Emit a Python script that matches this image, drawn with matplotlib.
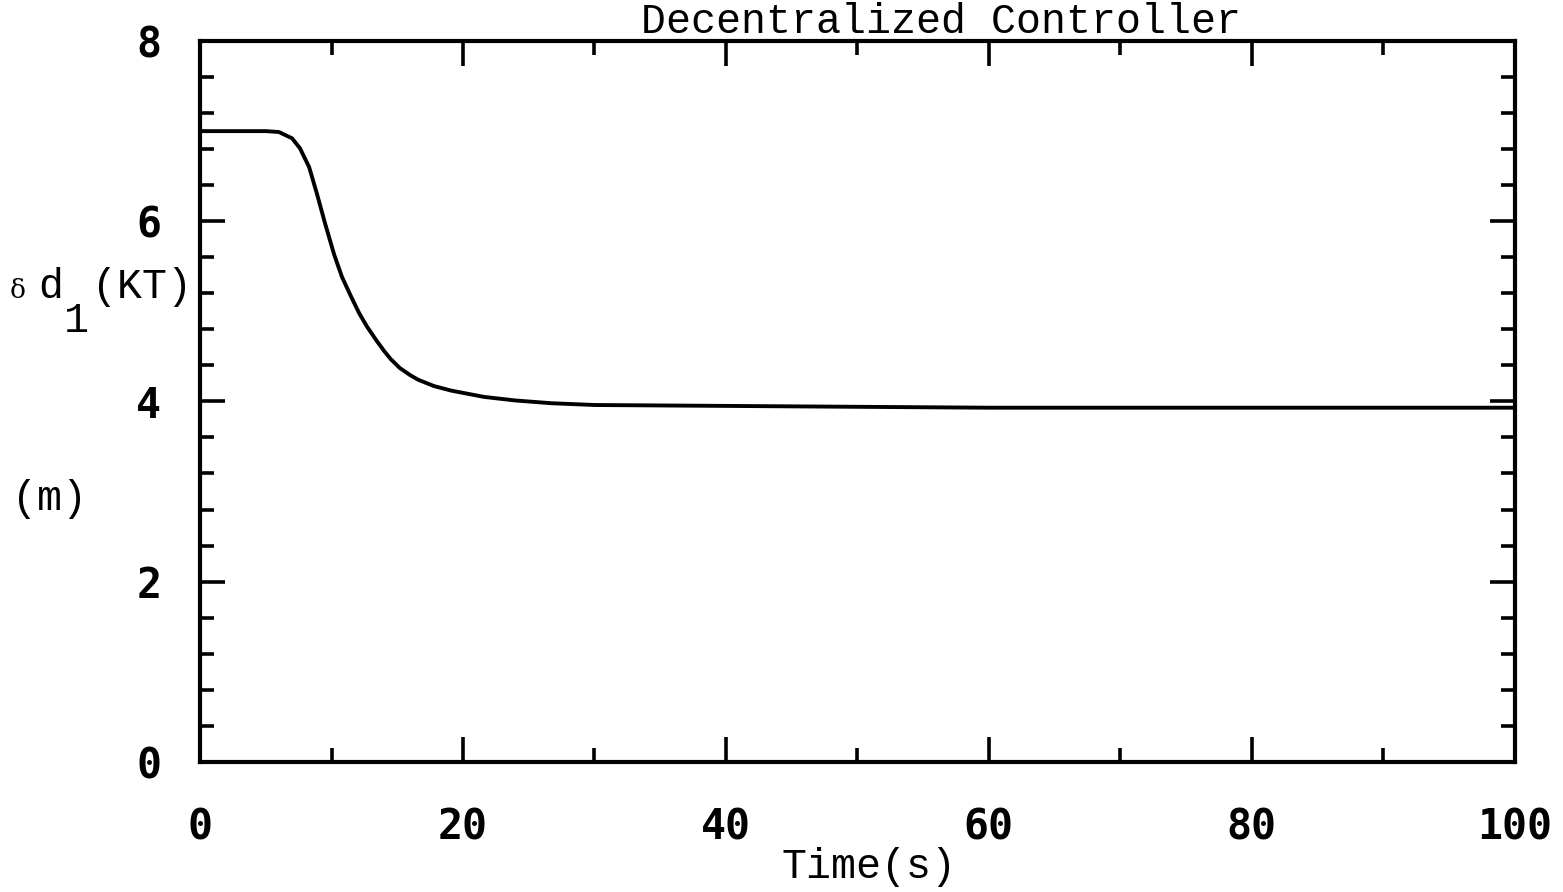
import matplotlib
matplotlib.use("Agg")
import matplotlib.pyplot as plt
from matplotlib.ticker import MultipleLocator

# data
t = [0, 5, 6, 7, 7.6, 8.3, 8.9, 9.5, 10.2, 10.8, 11.5, 12.1, 12.7, 13.4,
     14.0, 14.5, 15.2, 16.0, 16.6, 17.8, 19.1, 21.6, 24, 26.7, 30, 40, 50,
     60, 80, 100]
dd1 = [7.00, 7.00, 6.99, 6.92, 6.81, 6.60, 6.30, 5.98, 5.63, 5.38, 5.16, 4.98,
       4.83, 4.68, 4.56, 4.47, 4.37, 4.29, 4.24, 4.17, 4.12, 4.05, 4.01, 3.98,
       3.96, 3.95, 3.94, 3.93, 3.93, 3.93]

xticks = [0, 20, 40, 60, 80, 100]
yticks = [0, 2, 4, 6, 8]

mono = "Liberation Mono"
tickfont = "DejaVu Sans Mono"

fig = plt.figure(figsize=(15.63, 8.92), dpi=100)
ax = fig.add_axes([0.128, 0.146, 0.841, 0.808])

ax.plot(t, dd1, color="black", lw=2.8, solid_joinstyle="round", solid_capstyle="round")

ax.set_xlim(0, 100)
ax.set_ylim(0, 8)

# inward ticks on all four sides
ax.set_xticks(xticks)
ax.set_yticks(yticks)
ax.xaxis.set_minor_locator(MultipleLocator(10))
ax.yaxis.set_minor_locator(MultipleLocator(0.4))
ax.tick_params(which="both", direction="in", top=True, right=True, width=2.6)
ax.tick_params(which="major", length=18)
ax.tick_params(which="minor", length=10)
ax.tick_params(axis="x", which="major", pad=32)
ax.tick_params(axis="y", which="major", pad=28)
for sp in ax.spines.values():
    sp.set_linewidth(3)

for lab in ax.get_xticklabels() + ax.get_yticklabels():
    lab.set_fontfamily(tickfont)
    lab.set_fontweight("bold")
    lab.set_fontsize(30)

# title
fig.text(0.602, 1 - 33 / 892, "Decentralized Controller", family=mono,
         fontsize=30, ha="center", va="baseline")

# x label
fig.text(0.556, 1 - 878 / 892, "Time(s)", family=mono, fontsize=30,
         ha="center", va="baseline")

# y label pieces
fig.text(10 / 1563, 1 - 298 / 892, "δ", family="DejaVu Serif", fontsize=19,
         ha="left", va="baseline")
fig.text(38 / 1563, 1 - 298 / 892, "d", family=mono, fontsize=30,
         ha="left", va="baseline")
fig.text(64 / 1563, 1 - 332 / 892, "1", family=mono, fontsize=30,
         ha="left", va="baseline")
fig.text(92 / 1563, 1 - 298 / 892, "(KT)", family=mono, fontsize=30,
         ha="left", va="baseline")
fig.text(12 / 1563, 1 - 510 / 892, "(m)", family=mono, fontsize=30,
         ha="left", va="baseline")

fig.savefig("out.png", dpi=100, facecolor="white")
